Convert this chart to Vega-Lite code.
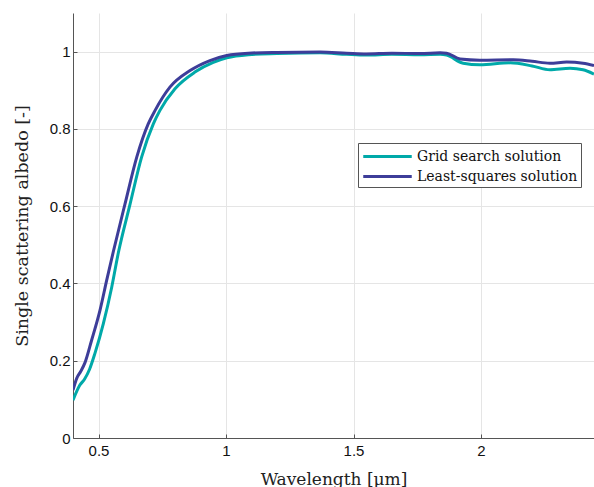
{
  "$schema": "https://vega.github.io/schema/vega-lite/v6.json",
  "autosize": {"type": "none"},
  "padding": {"left": 73, "top": 13, "right": 0, "bottom": 49},
  "width": 521,
  "height": 425,
  "background": "white",
  "config": {"view": {"stroke": null}},
  "data": {"values": [
    {"x": 0.400, "y": 0.098, "s": "Grid search solution"},
    {"x": 0.427, "y": 0.137, "s": "Grid search solution"},
    {"x": 0.445, "y": 0.152, "s": "Grid search solution"},
    {"x": 0.465, "y": 0.178, "s": "Grid search solution"},
    {"x": 0.486, "y": 0.219, "s": "Grid search solution"},
    {"x": 0.519, "y": 0.296, "s": "Grid search solution"},
    {"x": 0.552, "y": 0.391, "s": "Grid search solution"},
    {"x": 0.578, "y": 0.480, "s": "Grid search solution"},
    {"x": 0.624, "y": 0.606, "s": "Grid search solution"},
    {"x": 0.669, "y": 0.727, "s": "Grid search solution"},
    {"x": 0.715, "y": 0.813, "s": "Grid search solution"},
    {"x": 0.741, "y": 0.848, "s": "Grid search solution"},
    {"x": 0.800, "y": 0.904, "s": "Grid search solution"},
    {"x": 0.878, "y": 0.947, "s": "Grid search solution"},
    {"x": 0.950, "y": 0.972, "s": "Grid search solution"},
    {"x": 1.003, "y": 0.984, "s": "Grid search solution"},
    {"x": 1.088, "y": 0.992, "s": "Grid search solution"},
    {"x": 1.200, "y": 0.995, "s": "Grid search solution"},
    {"x": 1.369, "y": 0.997, "s": "Grid search solution"},
    {"x": 1.473, "y": 0.993, "s": "Grid search solution"},
    {"x": 1.550, "y": 0.991, "s": "Grid search solution"},
    {"x": 1.650, "y": 0.993, "s": "Grid search solution"},
    {"x": 1.761, "y": 0.992, "s": "Grid search solution"},
    {"x": 1.840, "y": 0.993, "s": "Grid search solution"},
    {"x": 1.865, "y": 0.991, "s": "Grid search solution"},
    {"x": 1.930, "y": 0.970, "s": "Grid search solution"},
    {"x": 1.996, "y": 0.966, "s": "Grid search solution"},
    {"x": 2.114, "y": 0.971, "s": "Grid search solution"},
    {"x": 2.200, "y": 0.963, "s": "Grid search solution"},
    {"x": 2.270, "y": 0.953, "s": "Grid search solution"},
    {"x": 2.349, "y": 0.957, "s": "Grid search solution"},
    {"x": 2.400, "y": 0.953, "s": "Grid search solution"},
    {"x": 2.443, "y": 0.942, "s": "Grid search solution"},
    {"x": 0.400, "y": 0.124, "s": "Least-squares solution"},
    {"x": 0.415, "y": 0.155, "s": "Least-squares solution"},
    {"x": 0.430, "y": 0.172, "s": "Least-squares solution"},
    {"x": 0.447, "y": 0.195, "s": "Least-squares solution"},
    {"x": 0.473, "y": 0.253, "s": "Least-squares solution"},
    {"x": 0.506, "y": 0.331, "s": "Least-squares solution"},
    {"x": 0.532, "y": 0.408, "s": "Least-squares solution"},
    {"x": 0.558, "y": 0.482, "s": "Least-squares solution"},
    {"x": 0.604, "y": 0.606, "s": "Least-squares solution"},
    {"x": 0.650, "y": 0.727, "s": "Least-squares solution"},
    {"x": 0.695, "y": 0.813, "s": "Least-squares solution"},
    {"x": 0.722, "y": 0.848, "s": "Least-squares solution"},
    {"x": 0.780, "y": 0.908, "s": "Least-squares solution"},
    {"x": 0.859, "y": 0.951, "s": "Least-squares solution"},
    {"x": 0.937, "y": 0.977, "s": "Least-squares solution"},
    {"x": 1.003, "y": 0.990, "s": "Least-squares solution"},
    {"x": 1.088, "y": 0.996, "s": "Least-squares solution"},
    {"x": 1.200, "y": 0.998, "s": "Least-squares solution"},
    {"x": 1.369, "y": 0.999, "s": "Least-squares solution"},
    {"x": 1.473, "y": 0.996, "s": "Least-squares solution"},
    {"x": 1.550, "y": 0.994, "s": "Least-squares solution"},
    {"x": 1.650, "y": 0.996, "s": "Least-squares solution"},
    {"x": 1.761, "y": 0.995, "s": "Least-squares solution"},
    {"x": 1.840, "y": 0.997, "s": "Least-squares solution"},
    {"x": 1.865, "y": 0.996, "s": "Least-squares solution"},
    {"x": 1.918, "y": 0.981, "s": "Least-squares solution"},
    {"x": 1.996, "y": 0.978, "s": "Least-squares solution"},
    {"x": 2.127, "y": 0.979, "s": "Least-squares solution"},
    {"x": 2.200, "y": 0.975, "s": "Least-squares solution"},
    {"x": 2.270, "y": 0.970, "s": "Least-squares solution"},
    {"x": 2.336, "y": 0.973, "s": "Least-squares solution"},
    {"x": 2.400, "y": 0.970, "s": "Least-squares solution"},
    {"x": 2.443, "y": 0.964, "s": "Least-squares solution"}
  ]},
  "mark": {"type": "line", "strokeWidth": 3, "interpolate": "monotone", "clip": true},
  "encoding": {
    "x": {
      "field": "x", "type": "quantitative",
      "scale": {"domain": [0.4, 2.443], "nice": false, "zero": false},
      "axis": {
        "title": "Wavelength [μm]",
        "values": [0.5, 1, 1.5, 2],
        "format": "~g",
        "grid": true, "gridColor": "#e5e5e5",
        "domainColor": "#555555", "tickColor": "#555555",
        "tickSize": -4, "labelPadding": 9,
        "labelFont": "Liberation Sans", "labelFontSize": 15, "labelColor": "#111111",
        "titleFont": "DejaVu Serif", "titleFontSize": 17, "titleFontWeight": "normal",
        "titleColor": "#222222", "titlePadding": 13
      }
    },
    "y": {
      "field": "y", "type": "quantitative",
      "scale": {"domain": [0, 1.1], "nice": false},
      "axis": {
        "title": "Single scattering albedo [-]",
        "values": [0, 0.2, 0.4, 0.6, 0.8, 1],
        "format": "~g",
        "grid": true, "gridColor": "#e5e5e5",
        "domainColor": "#555555", "tickColor": "#555555",
        "tickSize": -4, "labelPadding": 7,
        "labelFont": "Liberation Sans", "labelFontSize": 15, "labelColor": "#111111",
        "titleFont": "DejaVu Serif", "titleFontSize": 17.5, "titleFontWeight": "normal",
        "titleColor": "#222222", "titlePadding": 18
      }
    },
    "color": {
      "field": "s", "type": "nominal",
      "scale": {"domain": ["Grid search solution", "Least-squares solution"], "range": ["#00a9a9", "#3d3d99"]},
      "legend": {
        "title": null,
        "orient": "none", "legendX": 285, "legendY": 130,
        "symbolType": "M-2.8,0H2.8", "symbolSize": 300, "symbolStrokeWidth": 3,
        "symbolOffset": 16,
        "labelFont": "DejaVu Serif", "labelFontSize": 14, "labelColor": "#111111",
        "strokeColor": "#555555", "fillColor": "white", "padding": 3,
        "rowPadding": 2, "labelOffset": 19, "labelLimit": 300
      }
    }
  }
}
